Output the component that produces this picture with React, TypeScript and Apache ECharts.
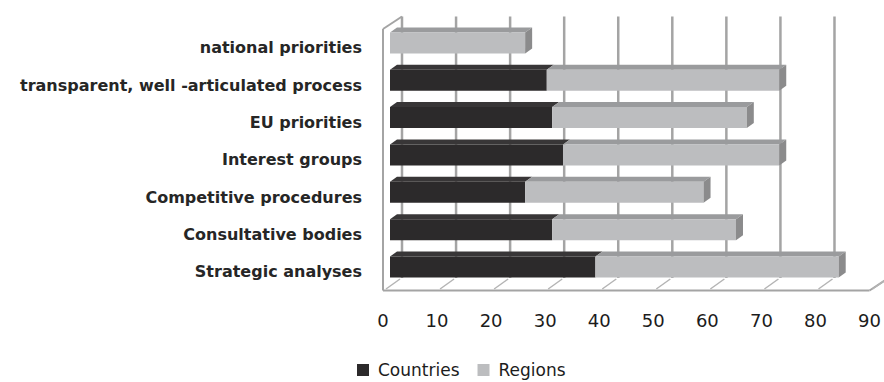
import { useEffect, useRef } from "react";
import * as echarts from "echarts";

// Categories listed top to bottom as they appear on the chart
const categories = [
  "national priorities",
  "transparent, well -articulated process",
  "EU priorities",
  "Interest groups",
  "Competitive procedures",
  "Consultative bodies",
  "Strategic analyses",
];
const countries = [0, 29, 30, 32, 25, 30, 38];
const regions = [25, 43, 36, 40, 33, 34, 45];
const xTicks = [0, 10, 20, 30, 40, 50, 60, 70, 80, 90];

const FONT = "'DejaVu Sans', sans-serif";
const TEXT = "#1c1c1c";

// 3D look: offsets in pixels
const WALL_DX = 19;
const WALL_DY = -12.5;
const BAR_SHIFT_X = 7;
const BAR_SHIFT_Y = -4.8;
const BAR_H = 21;
const BAR_DX = 7;
const BAR_DY = -5;
const GRID_COLOR = "#a4a4a4";

const COLORS = {
  countries: { front: "#2c2a2b", top: "#383637", side: "#1f1e1e" },
  regions: { front: "#bcbdbf", top: "#9a9b9d", side: "#8b8b8c" },
};

function barRenderer(palette: { front: string; top: string; side: string }, withSide: boolean) {
  return (_params: any, api: any) => {
    const cat = api.value(0);
    const a = api.coord([api.value(1), cat]);
    const b = api.coord([api.value(2), cat]);
    const w = b[0] - a[0];
    if (w <= 0.5) return { type: "group", children: [] };
    const x1 = a[0] + BAR_SHIFT_X;
    const x2 = b[0] + BAR_SHIFT_X;
    const yT = a[1] + BAR_SHIFT_Y - BAR_H / 2;
    const yB = yT + BAR_H;
    const children: any[] = [
      {
        type: "polygon",
        shape: {
          points: [
            [x1, yT],
            [x2, yT],
            [x2 + BAR_DX, yT + BAR_DY],
            [x1 + BAR_DX, yT + BAR_DY],
          ],
        },
        style: { fill: palette.top },
      },
      {
        type: "rect",
        shape: { x: x1, y: yT, width: w, height: BAR_H },
        style: { fill: palette.front },
      },
    ];
    if (withSide) {
      children.push({
        type: "polygon",
        shape: {
          points: [
            [x2, yT],
            [x2 + BAR_DX, yT + BAR_DY],
            [x2 + BAR_DX, yB + BAR_DY],
            [x2, yB],
          ],
        },
        style: { fill: palette.side },
      });
    }
    return { type: "group", children };
  };
}

function plotBounds(api: any) {
  const band = api.size([0, 1])[1];
  const top = api.coord([0, 0])[1] - band / 2;
  const bottom = api.coord([0, categories.length - 1])[1] + band / 2;
  return { top, bottom };
}

export default function App() {
  const ref = useRef<HTMLDivElement>(null);

  useEffect(() => {
    document.body.style.margin = "0";
    if (!ref.current) return;
    const chart = echarts.init(ref.current, undefined, { renderer: "svg" });

    const countriesData = categories.map((_, i) => [i, 0, countries[i]]);
    const regionsData = categories.map((_, i) => [i, countries[i], countries[i] + regions[i]]);
    const xMin = xTicks[0];
    const xMax = xTicks[xTicks.length - 1];

    chart.setOption({
      animation: false,
      backgroundColor: "#ffffff",
      textStyle: { fontFamily: FONT },
      grid: { left: 383, right: 13, top: 29, bottom: 91.5, containLabel: false },
      legend: {
        left: 357,
        top: 361,
        padding: 0,
        itemWidth: 12,
        itemHeight: 12,
        itemGap: 18,
        icon: "rect",
        textStyle: {
          fontFamily: FONT,
          fontSize: 17,
          color: TEXT,
          lineHeight: 18,
          padding: [0, 0, 0, 4],
        },
        data: ["Countries", "Regions"],
      },
      xAxis: {
        type: "value",
        min: xMin,
        max: xMax,
        interval: 10,
        axisLine: { show: false },
        axisTick: { show: false },
        splitLine: { show: false },
        axisLabel: { margin: 21, fontSize: 18, color: TEXT, fontFamily: FONT },
      },
      yAxis: {
        type: "category",
        inverse: true,
        data: categories,
        axisLine: { show: false },
        axisTick: { show: false },
        splitLine: { show: false },
        axisLabel: { margin: 21, fontSize: 16, fontWeight: "bold", color: "#262626", fontFamily: FONT },
      },
      series: [
        {
          // left wall and floor edge
          type: "custom",
          name: "frame",
          silent: true,
          z: 1,
          encode: { x: [0, 1], y: 2 },
          data: [[xMin, xMax, 0]],
          renderItem: (_p: any, api: any) => {
            const { top, bottom } = plotBounds(api);
            const x0 = api.coord([api.value(0), 0])[0];
            const x1 = api.coord([api.value(1), 0])[0];
            const line = (p: number[], q: number[]) => ({
              type: "line",
              shape: { x1: p[0], y1: p[1], x2: q[0], y2: q[1] },
              style: { stroke: GRID_COLOR, lineWidth: 2 },
            });
            return {
              type: "group",
              children: [
                line([x0, top], [x0, bottom]),
                line([x0, top], [x0 + WALL_DX, top + WALL_DY]),
                line([x0, bottom], [x1, bottom]),
                line([x1, bottom], [x1 + WALL_DX, bottom + WALL_DY]),
              ],
            };
          },
        },
        {
          // back-wall gridlines and floor ticks
          type: "custom",
          name: "grid",
          silent: true,
          z: 1,
          encode: { x: 0, y: 1 },
          data: xTicks.map((v) => [v, 0]),
          renderItem: (_p: any, api: any) => {
            const { top, bottom } = plotBounds(api);
            const x = api.coord([api.value(0), 0])[0];
            return {
              type: "group",
              children: [
                {
                  type: "line",
                  shape: { x1: x + WALL_DX, y1: top + WALL_DY, x2: x + WALL_DX, y2: bottom + WALL_DY },
                  style: { stroke: GRID_COLOR, lineWidth: 2.5 },
                },
                {
                  type: "line",
                  shape: { x1: x + 3, y1: bottom - 1.5, x2: x + WALL_DX - 2, y2: bottom + WALL_DY + 1 },
                  style: { stroke: "#b4b4b4", lineWidth: 1.5 },
                },
              ],
            };
          },
        },
        {
          type: "custom",
          name: "Countries",
          z: 2,
          itemStyle: { color: COLORS.countries.front },
          encode: { x: [1, 2], y: 0 },
          data: countriesData,
          renderItem: barRenderer(COLORS.countries, false),
        },
        {
          type: "custom",
          name: "Regions",
          z: 3,
          itemStyle: { color: COLORS.regions.front },
          encode: { x: [1, 2], y: 0 },
          data: regionsData,
          renderItem: barRenderer(COLORS.regions, true),
        },
      ],
    });

    return () => chart.dispose();
  }, []);

  return <div ref={ref} style={{ width: 884, height: 382 }} />;
}
